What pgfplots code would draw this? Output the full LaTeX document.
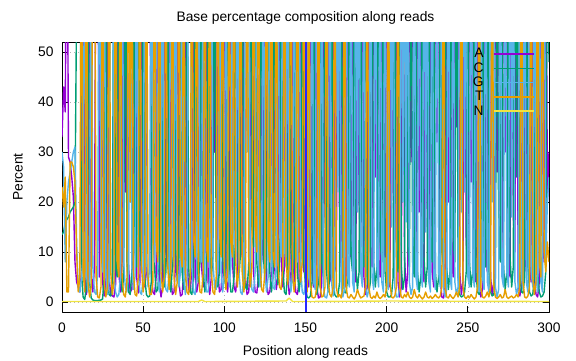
\documentclass[border=0pt]{standalone}
\usepackage{pgfplots}
\pgfplotsset{compat=1.18}
\usepackage{fontspec}
\setmainfont{Liberation Sans}
\definecolor{cA}{HTML}{9400D3}
\definecolor{cC}{HTML}{009E73}
\definecolor{cG}{HTML}{56B4E9}
\definecolor{cT}{HTML}{E69F00}
\definecolor{cN}{HTML}{F0E442}
\definecolor{cB}{HTML}{2828FF}
\begin{document}
\begin{tikzpicture}[font=\fontsize{13.8}{16}\selectfont]
\begin{axis}[
  scale only axis, width=487pt, height=270pt,
  xmin=0, xmax=300, ymin=-2, ymax=52,
  xtick={0,50,...,300}, ytick={0,10,...,50},
  /pgf/number format/assume math mode=true,
  axis line style={line width=1pt},
  tick style={black, line width=0.8pt},
  major tick length=6pt,
  tick align=inside,
  grid=major,
  major grid style={gray!60, line width=0.6pt, dash pattern=on 1pt off 3pt},
  xticklabel style={yshift=-7pt},
  yticklabel style={xshift=-5pt},
  title={Base percentage composition along reads},
  title style={at={(axis description cs:0.5,1)}, anchor=base, yshift=15pt},
  xlabel={Position along reads},
  xlabel style={at={(axis description cs:0.5,0)}, anchor=base, yshift=-43pt},
  ylabel={Percent},
  ylabel style={at={(axis description cs:-0.0905,0.5)}, anchor=center},
  legend plot pos=right,
  legend cell align=right,
  legend image code/.code={\draw[#1] (0pt,0pt) -- (40pt,0pt);},
  legend style={at={(axis description cs:0.977,0.99)}, anchor=north east, draw=none, fill=none, nodes={inner sep=1.6pt}, column sep=8pt},
  line join=round,
]
\addplot[cA, line width=1.4pt] coordinates {(0,33)(1,43)(2,38)(3,90)(4,29)(5,28)(6,25)(7,21)(8,8)(9,4)(10,3)(11,2)(12,6)(13,90)(14,5)(15,1.5)(16,4)(17,90)(18,6)(19,2)(20,7)(21,90)(22,90)(23,5)(24,90)(25,4)(26,1.2)(27,3)(28,90)(29,5)(30,1.5)(32,1)(33,3.5)(34,90)(35,6)(36,2)(37,8)(38,90)(39,22)(40,90)(41,7)(42,2)(43,2.5)(44,9)(45,90)(46,5)(47,1.8)(48,4)(49,90)(50,12)(51,3)(52,6)(53,90)(54,90)(55,6)(56,2)(57,1.5)(58,5)(59,90)(60,4)(61,1)(62,3)(63,90)(64,10)(65,7)(66,90)(67,5)(68,1.5)(69,2)(70,8)(71,90)(72,4)(73,1.2)(74,1.5)(75,6)(76,90)(77,9)(78,2.5)(79,2)(80,7)(81,90)(82,5)(83,2)(84,4)(85,90)(86,7)(87,3)(88,10)(89,90)(90,4)(91,1.5)(92,5)(93,90)(94,30)(95,90)(96,6)(97,2)(98,2.5)(99,8)(100,90)(101,5)(102,2)(103,6)(104,90)(105,8)(106,3)(107,2)(108,6)(109,90)(110,12)(111,9)(112,90)(113,5)(114,1.5)(115,2)(116,7)(117,90)(118,6)(119,2)(120,1.8)(121,5)(122,90)(123,14)(124,8)(125,90)(126,4)(127,1.5)(128,2)(129,6)(130,90)(131,7)(132,2.5)(133,5)(134,90)(135,9)(136,3)(137,7)(138,90)(139,5)(140,1.5)(141,3)(142,90)(143,6)(144,2)(145,1.5)(146,4)(147,90)(148,9)(149,6)(150,90)(151,4)(152,3)(153,90)(154,6)(155,3)(156,90)(157,3)(158,0.8)(159,1)(160,4)(161,90)(162,18)(163,10)(164,90)(165,5)(166,4)(167,90)(168,8)(169,6)(170,90)(171,12)(172,7)(173,90)(174,4)(175,3)(176,90)(177,15)(178,9)(179,90)(180,6)(181,4)(182,90)(183,20)(184,11)(185,90)(186,5)(187,1.5)(188,3)(189,90)(190,10)(191,7)(192,90)(193,25)(194,90)(195,8)(196,5)(197,90)(198,14)(199,9)(200,90)(201,5)(202,3)(203,90)(204,22)(205,12)(206,90)(207,4)(208,1)(209,3)(210,90)(211,9)(212,2)(213,6)(214,90)(215,28)(216,90)(217,11)(218,6)(219,90)(220,18)(221,90)(222,7)(223,4)(224,90)(225,16)(226,8)(227,90)(228,6)(229,3)(230,90)(231,32)(232,90)(233,5)(234,1)(235,0.8)(236,3)(237,90)(238,20)(239,90)(240,9)(241,5)(242,90)(243,35)(244,90)(245,6)(246,1.5)(247,4)(248,90)(249,12)(250,7)(251,90)(252,24)(253,90)(254,8)(255,4)(256,90)(257,3)(258,1)(259,2.5)(260,90)(261,10)(262,6)(263,90)(264,5)(265,1.5)(266,4)(267,90)(268,26)(269,90)(270,13)(271,8)(272,90)(273,30)(274,90)(275,9)(276,5)(277,90)(278,17)(279,10)(280,90)(281,4)(282,1.2)(283,3)(284,90)(285,11)(286,6)(287,90)(288,7)(289,4)(290,90)(291,5)(292,1.5)(293,1)(294,4)(295,90)(296,14)(297,8)(298,90)(299,20)(300,30)};
\addlegendentry{A}
\addplot[cC, line width=1.4pt] coordinates {(0,13.5)(1,14)(2,16)(3,16.5)(4,17)(5,18)(6,18.5)(7,19)(8,20)(9,60)(10,90)(11,90)(12,6)(13,1)(14,0.5)(15,3)(16,90)(17,4)(18,0.8)(19,0.4)(20,0.3)(22,0.3)(24,0.4)(25,0.6)(26,5)(27,90)(28,5)(29,1.5)(30,1.2)(31,4)(32,90)(33,7)(34,5)(35,90)(36,6)(37,2)(38,5)(39,90)(40,8)(41,2)(42,1.5)(43,6)(44,90)(45,10)(46,7)(47,90)(48,12)(49,6)(50,90)(51,5)(52,1.5)(53,1)(54,1.2)(55,4)(56,90)(57,7)(58,2)(59,2.5)(60,8)(61,90)(62,9)(63,3)(64,6)(65,90)(66,5)(67,2)(68,7)(69,90)(70,11)(71,4)(72,9)(73,90)(74,6)(75,2.5)(76,5)(77,90)(78,7)(79,2)(80,1.5)(81,5)(82,90)(83,10)(84,4)(85,8)(86,90)(87,6)(88,2)(89,5)(90,90)(91,12)(92,5)(93,9)(94,90)(95,7)(96,3)(97,6)(98,90)(99,9)(100,4)(101,7)(102,90)(103,6)(104,2)(105,2)(106,5)(107,90)(108,13)(109,5)(110,10)(111,90)(112,8)(113,3)(114,2.5)(115,7)(116,90)(117,15)(118,11)(119,90)(120,8)(121,3)(122,6)(123,90)(124,10)(125,4)(126,8)(127,90)(128,6)(129,2)(130,5)(131,90)(132,9)(133,3.5)(134,7)(135,90)(136,7)(137,2)(138,1.5)(139,6)(140,90)(141,11)(142,4)(143,9)(144,90)(145,6)(146,2)(147,5)(148,90)(149,8)(150,3)(151,1)(152,0.8)(153,1.2)(154,4)(155,90)(156,5)(157,1.5)(158,4)(159,90)(160,8)(161,5)(162,90)(163,6)(164,2)(165,5)(166,90)(167,5)(168,1.5)(169,1)(170,1.2)(171,4)(172,90)(173,6)(174,2)(175,1.8)(176,5)(177,90)(178,9)(179,6)(180,90)(181,7)(182,2.5)(183,6)(184,90)(185,10)(186,7)(187,90)(188,5)(189,2)(190,4)(191,90)(192,8)(193,3)(194,7)(195,90)(196,12)(197,8)(198,90)(199,6)(200,2)(201,1)(202,1)(203,1.5)(204,5)(205,90)(206,9)(207,6)(208,90)(209,7)(210,2.5)(211,5)(212,90)(213,11)(214,7)(215,90)(216,8)(217,5)(218,90)(219,6)(220,2)(221,5)(222,90)(223,9)(224,3)(225,7)(226,90)(227,13)(228,8)(229,90)(230,6)(231,2)(232,5)(233,90)(234,10)(235,7)(236,90)(237,7)(238,2.5)(239,6)(240,90)(241,12)(242,8)(243,90)(244,5)(245,1.5)(246,1)(247,1.2)(248,2)(249,6)(250,90)(251,8)(252,3)(253,6)(254,90)(255,6)(256,2)(257,1.5)(258,5)(259,90)(260,10)(261,7)(262,90)(263,6)(264,2)(265,1.2)(266,1.5)(267,5)(268,90)(269,11)(270,8)(271,90)(272,7)(273,2.5)(274,6)(275,90)(276,9)(277,3)(278,7)(279,90)(280,25)(281,90)(282,6)(283,2)(284,1.8)(285,5)(286,90)(287,7)(288,2)(289,1.2)(290,1.5)(291,5)(292,90)(293,6)(294,2)(295,1)(296,1.2)(297,2)(298,6)(299,90)(300,48)};
\addlegendentry{C}
\addplot[cG, line width=1.4pt] coordinates {(0,30)(1,27)(2,8)(3,20)(4,24)(5,26)(6,28)(7,30)(8,31)(9,12)(10,3)(11,2)(12,5)(13,9)(14,90)(15,6)(16,2)(17,5)(18,90)(19,7)(20,2)(21,1.5)(22,6)(23,90)(24,10)(25,6)(26,90)(27,5)(28,1.5)(29,4)(30,90)(31,90)(32,6)(33,2)(34,1)(35,1.5)(36,5)(37,90)(38,8)(39,3)(40,2)(41,6)(42,90)(43,7)(44,2.5)(45,5)(46,90)(47,6)(48,2)(49,1.5)(50,5)(51,90)(52,9)(53,3)(54,7)(55,90)(56,12)(57,8)(58,90)(59,6)(60,2)(61,5)(62,90)(63,7)(64,2.5)(65,2)(66,6)(67,90)(68,10)(69,7)(70,90)(71,8)(72,3)(73,6)(74,90)(75,5)(76,1.5)(77,4)(78,90)(79,90)(80,7)(81,2)(82,1.5)(83,5)(84,90)(85,11)(86,8)(87,90)(88,6)(89,2)(90,2)(91,5)(92,90)(93,8)(94,3)(95,2.5)(96,7)(97,90)(98,6)(99,2)(100,5)(101,90)(102,9)(103,3)(104,7)(105,90)(106,13)(107,9)(108,90)(109,6)(110,2)(111,1.5)(112,5)(113,90)(114,30)(115,90)(116,7)(117,2.5)(118,2)(119,6)(120,90)(121,8)(122,3)(123,6)(124,90)(125,6)(126,2)(127,5)(128,90)(129,9)(130,3)(131,2.5)(132,7)(133,90)(134,14)(135,9)(136,90)(137,11)(138,7)(139,90)(140,6)(141,2)(142,5)(143,90)(144,12)(145,8)(146,90)(147,7)(148,2)(149,1.5)(150,4)(151,90)(152,5)(153,3)(154,90)(155,4)(156,2.5)(157,90)(158,6)(159,3)(160,90)(161,3)(162,1)(163,0.8)(164,2.5)(165,90)(166,4)(167,1.2)(168,3)(169,90)(170,22)(171,90)(172,3)(173,1)(174,2.5)(175,90)(176,5)(177,3)(178,90)(179,4)(180,2)(181,90)(182,18)(183,90)(184,6)(185,3)(186,90)(187,3)(188,1)(189,2.5)(190,90)(191,5)(192,2.5)(193,90)(194,7)(195,3)(196,90)(197,4)(198,2)(199,90)(200,5)(201,2.5)(202,90)(203,15)(204,90)(205,3)(206,1)(207,1)(208,3)(209,90)(210,20)(211,90)(212,16)(213,90)(214,4)(215,1.5)(216,3)(217,90)(218,5)(219,2.5)(220,90)(221,6)(222,3)(223,90)(224,14)(225,90)(226,4)(227,2)(228,90)(229,5)(230,2.5)(231,90)(232,6)(233,3)(234,90)(235,3)(236,1)(237,2.5)(238,90)(239,5)(240,2.5)(241,90)(242,4)(243,1.5)(244,3)(245,90)(246,18)(247,90)(248,22)(249,90)(250,5)(251,3)(252,90)(253,6)(254,3)(255,90)(256,4)(257,2)(258,90)(259,5)(260,2.5)(261,90)(262,4)(263,2)(264,90)(265,20)(266,90)(267,3)(268,1)(269,2.5)(270,90)(271,5)(272,3)(273,90)(274,6)(275,3)(276,90)(277,17)(278,90)(279,4)(280,1.5)(281,3)(282,90)(283,5)(284,2.5)(285,90)(286,4)(287,2)(288,90)(289,6)(290,3)(291,90)(292,5)(293,2)(294,90)(295,4)(296,2)(297,90)(298,8)(299,20)(300,25)};
\addlegendentry{G}
\addplot[cT, line width=1.4pt] coordinates {(0,23)(1,19)(2,25)(3,2)(4,2)(5,28)(6,28)(7,27)(8,24)(9,10)(10,2)(11,5)(12,90)(13,6)(14,2)(15,90)(16,4)(17,1)(18,3)(19,90)(20,90)(21,5)(22,1)(23,0.8)(24,3)(25,90)(26,4)(27,1)(28,3)(29,90)(30,6)(31,1.5)(32,4)(33,90)(34,8)(35,5)(36,90)(37,5)(38,1.5)(39,1)(40,4)(41,90)(42,20)(43,90)(44,6)(45,1.5)(46,1.2)(47,5)(48,90)(49,7)(50,2)(51,5)(52,90)(53,5)(54,1.5)(55,1.5)(56,4)(57,90)(58,12)(59,8)(60,90)(61,6)(62,2)(63,5)(64,90)(65,8)(66,2.5)(67,6)(68,90)(69,5)(70,1.5)(71,4)(72,90)(73,10)(74,7)(75,90)(76,6)(77,2)(78,1.5)(79,5)(80,90)(81,13)(82,9)(83,90)(84,7)(85,2)(86,1.8)(87,6)(88,90)(89,11)(90,8)(91,90)(92,6)(93,2)(94,1.5)(95,5)(96,90)(97,14)(98,9)(99,90)(100,7)(101,2.5)(102,6)(103,90)(104,12)(105,9)(106,90)(107,8)(108,3)(109,7)(110,90)(111,6)(112,2)(113,5)(114,90)(115,9)(116,3)(117,7)(118,90)(119,15)(120,10)(121,90)(122,7)(123,2.5)(124,2)(125,6)(126,90)(127,12)(128,8)(129,90)(130,10)(131,7)(132,90)(133,8)(134,3)(135,2.5)(136,7)(137,90)(138,9)(139,3.5)(140,8)(141,90)(142,6)(143,2)(144,5)(145,90)(146,10)(147,4)(148,8)(149,90)(150,3)(151,2)(152,90)(153,4)(154,1)(155,0.8)(156,1)(157,3)(158,90)(159,3)(160,1)(161,1.2)(162,3)(163,90)(164,4)(165,1.5)(166,1)(167,3)(168,90)(169,3)(170,1)(171,1.5)(172,0.8)(173,3)(174,90)(175,3)(176,1)(177,0.8)(178,1.5)(179,1)(180,0.6)(181,1.2)(182,2.5)(183,1.5)(184,0.8)(185,1)(186,1.2)(187,3)(188,90)(189,3)(190,1)(191,0.7)(192,1.2)(193,0.8)(194,2)(195,1)(196,0.7)(197,1)(198,1.5)(199,1)(200,3)(201,90)(202,4)(203,1)(204,0.8)(205,1.2)(206,3)(207,90)(208,3)(209,1)(210,0.8)(211,1.5)(212,1)(213,2)(214,1)(215,0.7)(216,1)(217,2.5)(218,1.2)(219,0.8)(220,1.5)(221,1)(222,0.6)(223,1)(224,2)(225,1)(226,0.8)(227,1.2)(228,0.7)(229,1)(230,1.5)(231,1)(232,0.8)(233,1.2)(234,3)(235,90)(236,3)(237,1)(238,0.8)(239,1.5)(240,1)(241,0.7)(242,1.2)(243,2)(244,1)(245,3)(246,90)(247,3)(248,1)(249,0.7)(250,1.2)(251,0.8)(252,1.5)(253,1)(254,0.6)(255,1)(256,3)(257,90)(258,3)(259,1)(260,0.8)(261,1.2)(262,2)(263,1)(264,3)(265,90)(266,3)(267,1)(268,0.7)(269,1)(270,1.5)(271,0.8)(272,1)(273,2.5)(274,1)(275,0.7)(276,1)(277,1.2)(278,0.8)(279,1)(280,1.5)(281,1)(282,3)(283,90)(284,4)(285,1)(286,0.8)(287,1.2)(288,3)(289,90)(290,5)(291,1.5)(292,4)(293,90)(294,8)(295,5)(296,90)(297,10)(298,6)(299,12)(300,8)};
\addlegendentry{T}
\addplot[cN, line width=1.4pt] coordinates {(0,0.1)(84,0.1)(86,0.4)(88,0.1)(138,0.2)(140,0.8)(142,0.1)(150,0.1)(200,0.2)(300,0.1)};
\addlegendentry{N}
\addplot[cB, line width=2pt, forget plot] coordinates {(150,-2)(150,52)};
\end{axis}
\pgfresetboundingbox
\path ([shift={(-62pt,-48pt)}]current axis.south west) rectangle ([shift={(27pt,42pt)}]current axis.north east);
\end{tikzpicture}
\end{document}
